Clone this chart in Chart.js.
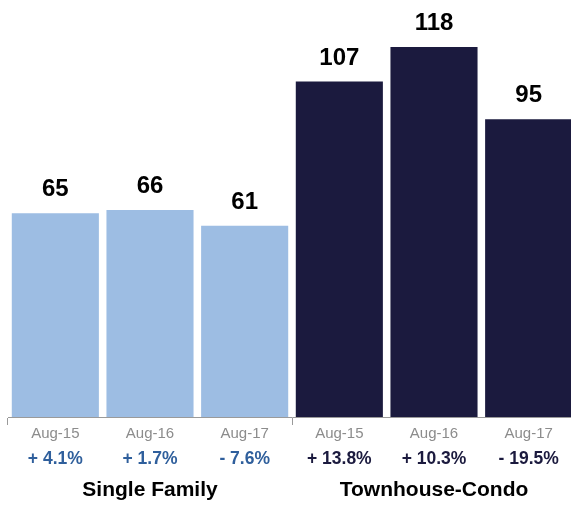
<!DOCTYPE html>
<html>
<head>
<meta charset="utf-8">
<script src="https://cdn.jsdelivr.net/npm/chart.js@4"></script>
<style>
  html, body { margin: 0; padding: 0; background: #fff; overflow: hidden; }
  #wrap { width: 576px; height: 505px; }
</style>
</head>
<body>
<div id="wrap"><canvas id="myChart"></canvas></div>
<script>
const periods = ['Aug-15', 'Aug-16', 'Aug-17', 'Aug-15', 'Aug-16', 'Aug-17'];
const values = [65, 66, 61, 107, 118, 95];
const changes = ['+ 4.1%', '+ 1.7%', '- 7.6%', '+ 13.8%', '+ 10.3%', '- 19.5%'];
const groups = ['', 'Single Family', '', '', 'Townhouse-Condo', ''];

const lightBlue = '#9dbde3';
const navy = '#1b1a3e';
const font = "'Liberation Sans', Arial, Helvetica, sans-serif";

// value labels above each bar
const barLabels = {
    id: 'barLabels',
    afterDatasetsDraw(chart) {
        const ctx = chart.ctx;
        const meta = chart.getDatasetMeta(0);
        ctx.save();
        ctx.font = 'bold 24px ' + font;
        ctx.fillStyle = '#000';
        ctx.textAlign = 'center';
        ctx.textBaseline = 'alphabetic';
        meta.data.forEach((bar, i) => {
            ctx.fillText(values[i], bar.x, bar.y - 17);
        });
        ctx.restore();
    }
};

const ctx = document.getElementById('myChart').getContext('2d');
new Chart(ctx, {
    type: 'bar',
    data: {
        labels: periods,
        datasets: [{
            data: values,
            backgroundColor: values.map((v, i) => i < 3 ? lightBlue : navy),
            borderWidth: 0,
            barPercentage: 0.92,
            categoryPercentage: 1
        }]
    },
    options: {
        responsive: true,
        maintainAspectRatio: false,
        animation: false,
        layout: { padding: { left: 8, right: 0, top: 0, bottom: 0 } },
        plugins: {
            legend: { display: false },
            tooltip: { enabled: false }
        },
        scales: {
            y: {
                display: false,
                min: 0,
                max: 133
            },
            x: {
                position: 'bottom',
                afterFit: s => { s.height = 30; },
                grid: {
                    offset: true,
                    drawOnChartArea: false,
                    drawTicks: true,
                    tickLength: 8,
                    color: c => (c.index === 0 || c.index === 3 || c.index === undefined) ? '#9a9a9a' : 'rgba(0,0,0,0)'
                },
                border: { display: true, color: '#9a9a9a', width: 1 },
                ticks: {
                    color: '#8c8c8c',
                    padding: 0,
                    maxRotation: 0,
                    minRotation: 0,
                    font: { family: font, size: 15 }
                }
            },
            x2: {
                type: 'category',
                position: 'bottom',
                labels: changes,
                afterFit: s => { s.height = 27; },
                grid: { display: false, drawTicks: false, tickLength: 0 },
                border: { display: false },
                ticks: {
                    color: c => c.index < 3 ? '#2f5f9c' : navy,
                    padding: 2,
                    maxRotation: 0,
                    minRotation: 0,
                    font: { family: font, size: 17.5, weight: 'bold' }
                }
            },
            x3: {
                type: 'category',
                position: 'bottom',
                labels: groups,
                afterFit: s => { s.height = 31; },
                grid: { display: false, drawTicks: false, tickLength: 0 },
                border: { display: false },
                ticks: {
                    color: '#000',
                    padding: 4,
                    autoSkip: false,
                    maxRotation: 0,
                    minRotation: 0,
                    font: { family: font, size: 21, weight: 'bold' }
                }
            }
        }
    },
    plugins: [barLabels]
});
</script>
</body>
</html>
